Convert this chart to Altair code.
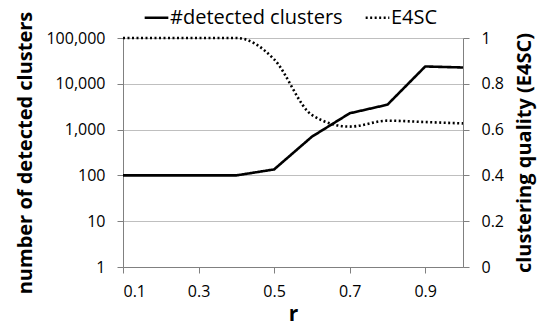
import altair as alt
import pandas as pd

r_values = [0.1, 0.2, 0.3, 0.4, 0.5, 0.6, 0.7, 0.8, 0.9, 1.0]
detected_clusters = [100, 100, 100, 100, 135, 700, 2270, 3500, 23900, 22700]
e4sc = [1.0, 1.0, 1.0, 1.0, 0.907, 0.664, 0.613, 0.639, 0.633, 0.627]

left_ticks = [1, 10, 100, 1000, 10000, 100000]
right_ticks = [0, 0.2, 0.4, 0.6, 0.8, 1.0]
x_ticks = [0.1, 0.3, 0.5, 0.7, 0.9]
series_names = ["#detected clusters", "E4SC"]

df = pd.DataFrame({"r": r_values, "clusters": detected_clusters, "e4sc": e4sc})

FONT = "Open Sans"

dash_scale = alt.Scale(domain=series_names, range=[[1, 0], [2, 2.5]])
dash_legend = alt.Legend(
    orient="none", legendX=20, legendY=-34, direction="horizontal", title=None,
    symbolType="stroke", symbolSize=560, symbolStrokeWidth=2.6, symbolStrokeColor="black",
    labelFontSize=20, labelFont=FONT, labelColor="black", labelOffset=0, labelLimit=400,
    columnPadding=17,
)

x_enc = alt.X("r:Q", scale=alt.Scale(domain=[0.1, 1.0], nice=False),
              axis=alt.Axis(values=x_ticks, format=".1f", title="r", grid=False,
                            tickSize=6, labelPadding=10, titlePadding=4, titleFontSize=21,
                            domainColor="#808080", tickColor="#808080"))

base = alt.Chart(df)

left = base.transform_calculate(series="'#detected clusters'").mark_line(
    color="black", strokeWidth=2.6
).encode(
    x=x_enc,
    y=alt.Y("clusters:Q",
            scale=alt.Scale(type="log", domain=[1, 100000], nice=False),
            axis=alt.Axis(values=left_ticks, format=",", title="number of detected clusters",
                          orient="left", grid=True, gridColor="#bfbfbf", gridWidth=1.2,
                          tickSize=6, labelPadding=12, titlePadding=10,
                          domainColor="#808080", tickColor="#808080")),
    strokeDash=alt.StrokeDash("series:N", scale=dash_scale, legend=dash_legend),
)

right = base.transform_calculate(series="'E4SC'").mark_line(
    color="black", strokeWidth=2.6, interpolate="monotone", strokeCap="butt"
).encode(
    x=x_enc,
    y=alt.Y("e4sc:Q",
            scale=alt.Scale(domain=[0, 1], nice=False),
            axis=alt.Axis(values=right_ticks, format="~g", title="clustering quality (E4SC)",
                          orient="right", grid=False, titleAngle=270, titleBaseline="top",
                          tickSize=6, labelPadding=12, titlePadding=11,
                          domainColor="#808080", tickColor="#808080")),
    strokeDash=alt.StrokeDash("series:N", scale=dash_scale, legend=dash_legend),
)

chart = alt.layer(left, right).resolve_scale(y="independent").properties(
    width=340, height=229,
    autosize=alt.AutoSizeParams(type="none"),
    padding={"left": 123, "top": 38, "right": 80, "bottom": 59},
).configure_view(stroke=None).configure_axis(
    labelFont=FONT, labelFontSize=16, labelColor="black",
    titleFont=FONT, titleFontSize=20, titleFontWeight="bold", titleColor="black",
)

chart.save("out.html", embed_options={"renderer": "svg", "actions": False})
